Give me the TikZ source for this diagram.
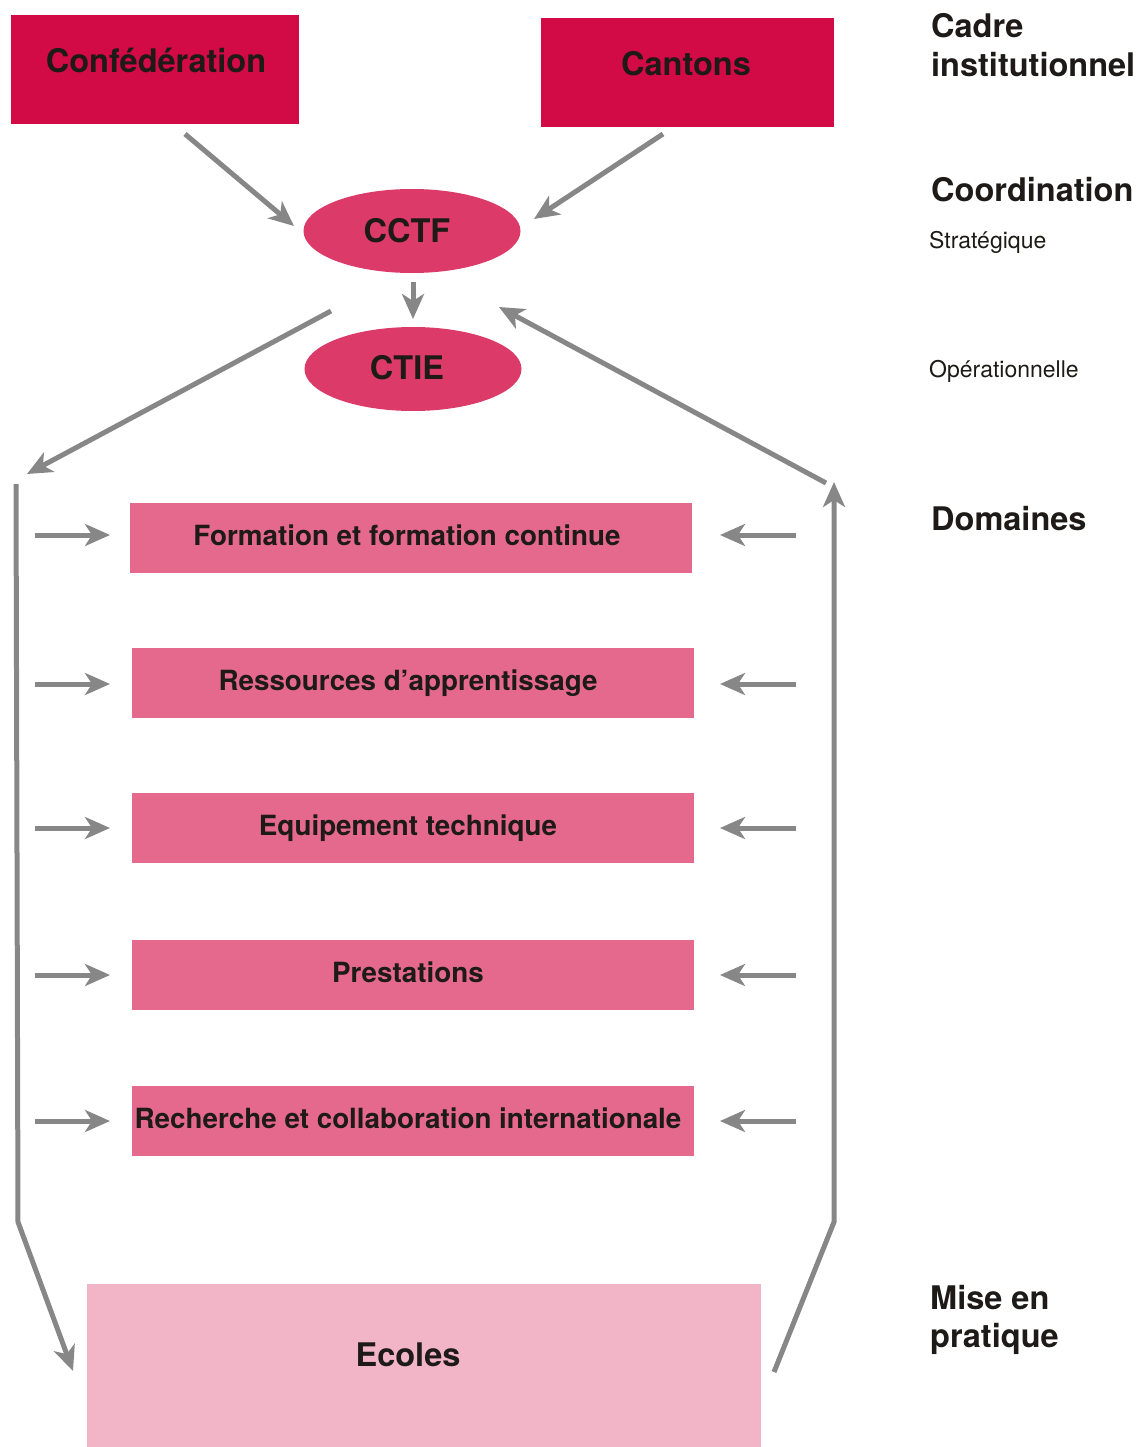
\documentclass[tikz,border=0pt]{standalone}
\usepackage{fontspec}
\setmainfont{TeX Gyre Heros}
\usetikzlibrary{arrows.meta,shapes.geometric}
\definecolor{crimson}{HTML}{D20A46}
\definecolor{ellcol}{HTML}{DC3A68}
\definecolor{domcol}{HTML}{E5698D}
\definecolor{ecolcol}{HTML}{F2B4C7}
\definecolor{arrgray}{HTML}{878787}
\definecolor{txt}{HTML}{1D1A17}
\tikzset{
  topbox/.style={fill=crimson, draw=none},
  ellbox/.style={ellipse, fill=ellcol, draw=none, minimum width=217pt, minimum height=84pt, inner sep=0pt},
  dombox/.style={fill=domcol, draw=none, minimum width=562pt, minimum height=70pt, inner sep=0pt},
  ecolbox/.style={fill=ecolcol, draw=none},
  lbl/.style={anchor=base, inner sep=0pt, text=txt, font=\fontsize{32.5}{36}\selectfont\bfseries},
  domlbl/.style={anchor=base, inner sep=0pt, text=txt, font=\fontsize{27.8}{30}\selectfont\bfseries},
  sidelbl/.style={anchor=base west, inner sep=0pt, text=txt, font=\fontsize{32.5}{38}\selectfont\bfseries},
  sidesmall/.style={anchor=base west, inner sep=0pt, text=txt, font=\fontsize{23}{26}\selectfont},
  arr/.style={draw=arrgray, line width=5pt, -{Stealth[length=25pt,width=22pt,inset=7pt]}},
}
\begin{document}
\begin{tikzpicture}[x=1pt,y=-1pt]
\useasboundingbox (0,0) rectangle (1145,1447);
% top boxes
\path[topbox] (11,15) rectangle (299,124);
\node[lbl] (conf) at (156,73) {Confédération};
\path[topbox] (541,18) rectangle (834,127);
\node[lbl] (cant) at (686,76) {Cantons};
% ellipses
\node[ellbox] (cctf) at (412,231) {};
\node[lbl] (cctflbl) at (407,243) {CCTF};
\node[ellbox] (ctie) at (413,369) {};
\node[lbl] (ctielbl) at (407,379) {CTIE};
% domain boxes
\node[dombox] (d1) at (411,538) {};
\node[domlbl] (t1) at (407,545) {Formation et formation continue};
\node[dombox] (d2) at (413,683) {};
\node[domlbl] (t2) at (408,690) {Ressources d’apprentissage};
\node[dombox] (d3) at (413,828) {};
\node[domlbl] (t3) at (408,835) {Equipement technique};
\node[dombox] (d4) at (413,975) {};
\node[domlbl] (t4) at (408,982) {Prestations};
\node[dombox] (d5) at (413,1121) {};
\node[domlbl] (t5) at (408,1128) {Recherche et collaboration internationale};
% ecoles
\path[ecolbox] (87,1284) rectangle (761,1447);
\node[lbl] (ecol) at (408,1366) {Ecoles};
% side labels
\node[sidelbl] (s1) at (931,38) {Cadre};
\node[sidelbl] (s2) at (931,77) {institutionnel};
\node[sidelbl] (s3) at (931,202) {Coordination};
\node[sidesmall] (s4) at (929,249) {Stratégique};
\node[sidesmall] (s5) at (929,377) {Opérationnelle};
\node[sidelbl] (s6) at (931,530) {Domaines};
\node[sidelbl] (s7) at (930,1309) {Mise en};
\node[sidelbl] (s8) at (930,1347) {pratique};
% connector coordinates
\coordinate (a1s) at (185,134);
\coordinate (a1e) at (294,226);
\coordinate (a2s) at (663,134);
\coordinate (a2e) at (534,219);
\coordinate (a3s) at (413,282);
\coordinate (a3e) at (413,319);
\coordinate (a4s) at (331,311);
\coordinate (a4e) at (27,474);
\coordinate (a5s) at (826,483);
\coordinate (a5e) at (499,307);
\coordinate (lt) at (16,484);
\coordinate (lb) at (18,1222);
\coordinate (le) at (73,1371);
\coordinate (rs) at (774,1372);
\coordinate (rb) at (834,1222);
\coordinate (rt) at (834,482);
% arrows
\draw[arr] (a1s) -- (a1e);
\draw[arr] (a2s) -- (a2e);
\draw[arr] (a3s) -- (a3e);
\draw[arr] (a4s) -- (a4e);
\draw[arr] (a5s) -- (a5e);
\draw[arr] (lt) -- (lb) -- (le);
\draw[arr] (rs) -- (rb) -- (rt);
% side arrows
\foreach \n/\y in {1/535,2/684,3/828,4/975,5/1121}{
  \coordinate (la\n) at (35,\y);
  \coordinate (lae\n) at (110,\y);
  \coordinate (ra\n) at (796,\y);
  \coordinate (rae\n) at (720,\y);
  \draw[arr] (la\n) -- (lae\n);
  \draw[arr] (ra\n) -- (rae\n);
}
\end{tikzpicture}
\end{document}
